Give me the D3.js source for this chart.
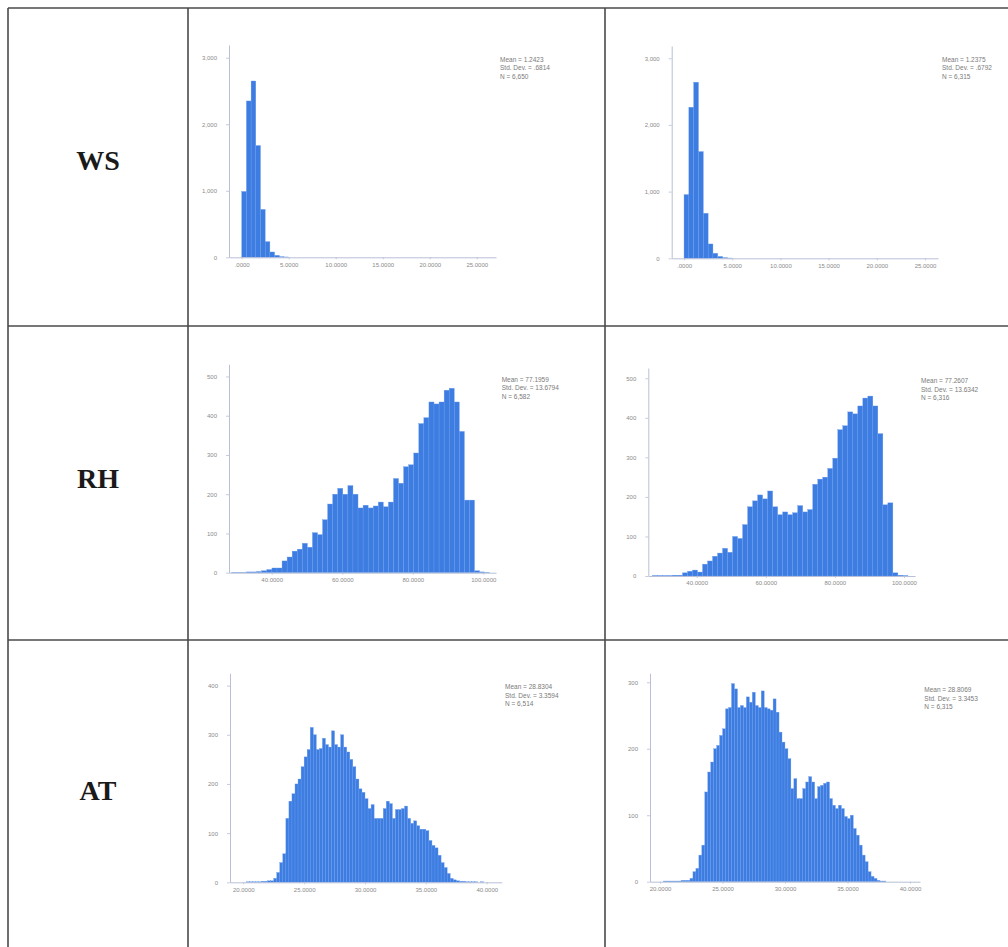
<!DOCTYPE html>
<html>
<head>
<meta charset="utf-8">
<script src="https://cdn.jsdelivr.net/npm/d3@7"></script>
<style>
  html, body { margin: 0; padding: 0; background: #fff; }
  svg { display: block; }
</style>
</head>
<body>
<svg id="chart" width="1008" height="947"></svg>
<script>
// ---------------- DATA ----------------
const rowLabels = ["WS", "RH", "AT"];

// WS (wind speed) histograms, bin width 0.5 starting at 0
const wsBinStart = 0, wsBinWidth = 0.5;
const ws1Counts = [990, 2350, 2650, 1680, 720, 235, 80, 30, 10, 5];
const ws2Counts = [955, 2265, 2640, 1600, 675, 215, 75, 28, 10, 4];
const ws1Stats = ["Mean = 1.2423", "Std. Dev. = .6814", "N = 6,650"];
const ws2Stats = ["Mean = 1.2375", "Std. Dev. = .6792", "N = 6,315"];
const wsXTicks = [0, 5, 10, 15, 20, 25];
const wsXLabels = [".0000", "5.0000", "10.0000", "15.0000", "20.0000", "25.0000"];
const wsYTicks = [0, 1000, 2000, 3000];
const wsYLabels = ["0", "1,000", "2,000", "3,000"];

// RH (relative humidity) histograms
const rh1BinStart = 28.58, rh1BinWidth = 1.436;
const rh1Counts = [1, 1, 1, 2, 2, 3,
  5, 8, 12, 12, 30, 40, 55, 60, 75, 65,
  102, 97, 135, 175, 200, 215, 200, 222, 200, 165,
  172, 165, 170, 180, 168, 180, 240, 228, 270, 275,
  305, 380, 395, 435, 430, 435, 465, 470, 435, 360,
  185, 185, 5, 2, 1];
const rh2BinStart = 27.2, rh2BinWidth = 1.45;
const rh2Counts = [1, 1, 1, 1, 2, 2,
  8, 12, 15, 10, 30, 38, 50, 58, 70, 60,
  100, 95, 130, 175, 190, 205, 195, 215, 175, 155,
  162, 155, 160, 178, 162, 168, 232, 245, 250, 272,
  298, 370, 380, 415, 410, 430, 450, 455, 430, 360,
  180, 185, 8, 2, 1];
const rh1Stats = ["Mean = 77.1959", "Std. Dev. = 13.6794", "N = 6,582"];
const rh2Stats = ["Mean = 77.2607", "Std. Dev. = 13.6342", "N = 6,316"];
const rhXTicks = [40, 60, 80, 100];
const rhXLabels = ["40.0000", "60.0000", "80.0000", "100.0000"];
const rhYTicks = [0, 100, 200, 300, 400, 500];
const rhYLabels = ["0", "100", "200", "300", "400", "500"];

// AT (air temperature) histograms
const at1BinStart = 19.0, at1BinWidth = 0.25;
const at1Counts = [0, 0, 0, 0, 0, 1, 1, 1, 1, 1, 2, 2, 3, 3,
  8, 20, 40, 58, 130, 165, 180, 200, 210, 235,
  255, 270, 315, 300, 270, 272, 293, 280, 275, 308,
  280, 275, 300, 275, 265, 250, 235, 210, 190, 183,
  170, 150, 158, 130, 130, 130, 150, 165, 160, 130,
  148, 148, 150, 155, 130, 120, 125, 115, 108, 108,
  105, 85, 75, 70, 55, 40, 30, 18, 8, 5,
  3, 2, 2, 1, 1, 1, 1, 0, 1, 0];
const at2BinStart = 19.31, at2BinWidth = 0.2375;
const at2Counts = [0, 0, 0, 0, 1, 1, 1, 1, 1, 1, 2, 2, 2,
  5, 15, 20, 40, 55, 135, 165, 180, 200, 205,
  220, 230, 260, 262, 298, 290, 262, 265, 262, 278,
  270, 285, 265, 262, 287, 262, 260, 258, 275, 255,
  225, 210, 200, 185, 140, 155, 125, 125, 140, 150,
  158, 150, 125, 143, 145, 148, 150, 125, 115, 110,
  115, 110, 98, 95, 100, 80, 70, 55, 40, 30,
  15, 8, 5, 2, 1, 1];
const at1Stats = ["Mean = 28.8304", "Std. Dev. = 3.3594", "N = 6,514"];
const at2Stats = ["Mean = 28.8069", "Std. Dev. = 3.3453", "N = 6,315"];
const atXTicks = [20, 25, 30, 35, 40];
const atXLabels = ["20.0000", "25.0000", "30.0000", "35.0000", "40.0000"];
const at1YTicks = [0, 100, 200, 300, 400];
const at1YLabels = ["0", "100", "200", "300", "400"];
const at2YTicks = [0, 100, 200, 300];
const at2YLabels = ["0", "100", "200", "300"];

// ---------------- LAYOUT ----------------
const svg = d3.select("#chart");
const barFill = "#3d7de2";
const barStroke = "#6a9ceb";
const axisColor = "#b9bfd6";
const labelColor = "#8a8a8a";
const statColor = "#7a7a7a";
const gridColor = "#4a4a4a";

// table grid (right and bottom edges fall outside the picture)
const tbl = { left: 8, top: 8, col1: 188, col2: 605, right: 1012, row1: 326, row2: 640, bottom: 960 };
const grid = svg.append("g").attr("stroke", gridColor).attr("stroke-width", 1.6).attr("fill", "none");
grid.append("line").attr("x1", tbl.left).attr("x2", tbl.right).attr("y1", tbl.top).attr("y2", tbl.top);
grid.append("line").attr("x1", tbl.left).attr("x2", tbl.right).attr("y1", tbl.row1).attr("y2", tbl.row1);
grid.append("line").attr("x1", tbl.left).attr("x2", tbl.right).attr("y1", tbl.row2).attr("y2", tbl.row2);
grid.append("line").attr("x1", tbl.left).attr("x2", tbl.left).attr("y1", tbl.top).attr("y2", tbl.bottom);
grid.append("line").attr("x1", tbl.col1).attr("x2", tbl.col1).attr("y1", tbl.top).attr("y2", tbl.bottom);
grid.append("line").attr("x1", tbl.col2).attr("x2", tbl.col2).attr("y1", tbl.top).attr("y2", tbl.bottom);

// row labels
const rowCenters = [160, 478, 790];
rowLabels.forEach((t, i) => {
  svg.append("text")
    .attr("x", 98).attr("y", rowCenters[i])
    .attr("text-anchor", "middle").attr("dominant-baseline", "central")
    .attr("font-family", "'Liberation Serif', 'Times New Roman', serif")
    .attr("font-weight", "bold").attr("font-size", 28)
    .attr("fill", "#1a1a1a")
    .text(t);
});

const panels = [
  { counts: ws1Counts, start: wsBinStart, width: wsBinWidth, stats: ws1Stats,
    xt: wsXTicks, xl: wsXLabels, yt: wsYTicks, yl: wsYLabels,
    left: 229, right: 496, top: 45, bottom: 257.3, xd: [-1.35, 27.05], ymax: 3191, sx: 500, sy: 62 },
  { counts: ws2Counts, start: wsBinStart, width: wsBinWidth, stats: ws2Stats,
    xt: wsXTicks, xl: wsXLabels, yt: wsYTicks, yl: wsYLabels,
    left: 671.7, right: 938, top: 46, bottom: 258.3, xd: [-1.28, 26.35], ymax: 3183, sx: 942, sy: 62 },
  { counts: rh1Counts, start: rh1BinStart, width: rh1BinWidth, stats: rh1Stats,
    xt: rhXTicks, xl: rhXLabels, yt: rhYTicks, yl: rhYLabels,
    left: 229, right: 496, top: 364.3, bottom: 572.7, xd: [27.9, 103.6], ymax: 531, sx: 501.7, sy: 381.7 },
  { counts: rh2Counts, start: rh2BinStart, width: rh2BinWidth, stats: rh2Stats,
    xt: rhXTicks, xl: rhXLabels, yt: rhYTicks, yl: rhYLabels,
    left: 648.3, right: 915, top: 368, bottom: 576, xd: [26.0, 103.2], ymax: 526, sx: 921, sy: 383.3 },
  { counts: at1Counts, start: at1BinStart, width: at1BinWidth, stats: at1Stats,
    xt: atXTicks, xl: atXLabels, yt: at1YTicks, yl: at1YLabels,
    left: 230, right: 501.7, top: 673.3, bottom: 882.3, xd: [18.91, 41.23], ymax: 425, sx: 505, sy: 689.3 },
  { counts: at2Counts, start: at2BinStart, width: at2BinWidth, stats: at2Stats,
    xt: atXTicks, xl: atXLabels, yt: at2YTicks, yl: at2YLabels,
    left: 650, right: 920, top: 673.3, bottom: 881.7, xd: [19.2, 40.8], ymax: 313.5, sx: 924.3, sy: 692.3 }
];

panels.forEach(p => {
  const x = d3.scaleLinear().domain(p.xd).range([p.left, p.right]);
  const y = d3.scaleLinear().domain([0, p.ymax]).range([p.bottom, p.top]);
  const g = svg.append("g");

  const bins = p.counts.map((c, i) => ({ x0: p.start + i * p.width, x1: p.start + (i + 1) * p.width, c }));
  g.selectAll("rect").data(bins.filter(b => b.c > 0)).join("rect")
    .attr("x", d => x(d.x0))
    .attr("width", d => Math.max(0, x(d.x1) - x(d.x0)))
    .attr("y", d => y(d.c))
    .attr("height", d => y(0) - y(d.c))
    .attr("fill", barFill)
    .attr("stroke", barStroke)
    .attr("stroke-width", 0.35);

  const xAxis = d3.axisBottom(x).tickValues(p.xt)
    .tickFormat((d, i) => p.xl[i]).tickSize(2).tickPadding(3).tickSizeOuter(0);
  const gx = g.append("g").attr("transform", `translate(0,${p.bottom})`).call(xAxis);
  const yAxis = d3.axisLeft(y).tickValues(p.yt)
    .tickFormat((d, i) => p.yl[i]).tickSize(3).tickPadding(9).tickSizeOuter(0);
  const gy = g.append("g").attr("transform", `translate(${p.left},0)`).call(yAxis);

  [gx, gy].forEach(a => {
    a.select(".domain").attr("stroke", axisColor).attr("stroke-width", 1);
    a.selectAll(".tick line").attr("stroke", axisColor).attr("stroke-width", 0.8);
    a.selectAll(".tick text")
      .attr("fill", labelColor)
      .attr("font-family", "'Liberation Sans', Arial, sans-serif")
      .attr("font-size", 6);
  });

  const st = g.append("text")
    .attr("x", p.sx).attr("y", p.sy)
    .attr("font-family", "'Liberation Sans', Arial, sans-serif")
    .attr("font-size", 6.5).attr("fill", statColor);
  p.stats.forEach((s, i) => {
    st.append("tspan").attr("x", p.sx).attr("dy", i === 0 ? 0 : 8.4).text(s);
  });
});
</script>
</body>
</html>
